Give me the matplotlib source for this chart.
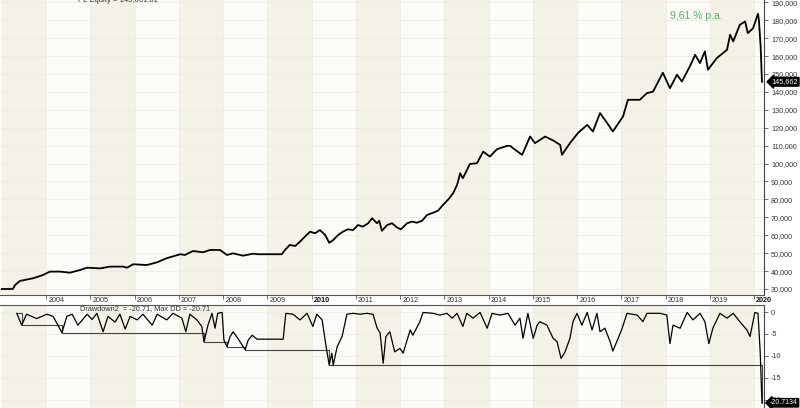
import matplotlib
matplotlib.use('Agg')
import matplotlib.pyplot as plt
import matplotlib.transforms as mtransforms
from matplotlib.ticker import FuncFormatter
import numpy as np

plt.rcParams['font.family'] = ['Liberation Sans', 'DejaVu Sans']

# ---- data ----
eq_dates = [2003.00, 2003.25, 2003.30, 2003.41, 2003.71, 2003.93, 2004.09, 2004.32, 2004.54, 2004.77,
            2004.93, 2005.22, 2005.45, 2005.74, 2005.83, 2005.97, 2006.28, 2006.51, 2006.73, 2007.03,
            2007.14, 2007.32, 2007.55, 2007.71, 2007.93, 2008.09, 2008.23, 2008.45, 2008.68, 2008.79,
            2009.33, 2009.40, 2009.51, 2009.63, 2009.74, 2009.85, 2009.97, 2010.08, 2010.19, 2010.31,
            2010.40, 2010.49, 2010.60, 2010.71, 2010.82, 2010.94, 2011.05, 2011.16, 2011.28, 2011.37,
            2011.48, 2011.53, 2011.59, 2011.71, 2011.82, 2011.93, 2012.02, 2012.16, 2012.27, 2012.38,
            2012.50, 2012.61, 2012.75, 2012.86, 2012.97, 2013.08, 2013.20, 2013.29, 2013.36, 2013.42,
            2013.58, 2013.74, 2013.88, 2014.03, 2014.19, 2014.42, 2014.49, 2014.60, 2014.76, 2014.94,
            2015.05, 2015.28, 2015.46, 2015.62, 2015.66, 2015.84, 2016.02, 2016.23, 2016.36, 2016.52,
            2016.68, 2016.81, 2017.04, 2017.15, 2017.42, 2017.58, 2017.72, 2017.94, 2018.10, 2018.26,
            2018.37, 2018.55, 2018.67, 2018.78, 2018.89, 2018.96, 2019.16, 2019.39, 2019.46, 2019.53,
            2019.68, 2019.80, 2019.86, 2019.98, 2020.09, 2020.11, 2020.15, 2020.18]
eq_values = [30000, 30000, 32200, 34500, 36000, 37800, 39700, 39700, 39100, 40600,
             41900, 41500, 42500, 42500, 41900, 43800, 43400, 44900, 47200, 49400,
             49000, 51200, 50500, 51800, 51800, 49000, 49900, 48600, 49700, 49400,
             49400, 51800, 54600, 54000, 56400, 59200, 62000, 61100, 62900, 60100,
             55800, 57300, 60100, 62000, 63300, 62900, 65700, 64800, 66700, 69500,
             66700, 68100, 62500, 65700, 66700, 64400, 63300, 66700, 67600, 67000,
             68100, 71300, 72600, 73700, 76900, 79700, 83400, 88100, 94600, 91800,
             99800, 100200, 106700, 103900, 108000, 109900, 109900, 107700, 104900, 115100,
             111400, 115100, 112900, 110400, 104900, 111400, 117000, 121600, 117900, 128200,
             122700, 117900, 126300, 135600, 135600, 139300, 140200, 150700, 142100, 149600,
             145800, 154200, 160700, 156100, 162600, 152400, 158900, 163500, 171900, 168200,
             177500, 179300, 172800, 175600, 183600, 180300, 165400, 145662]

dd_dates = [2003.34, 2003.45, 2003.56, 2003.79, 2004.02, 2004.16, 2004.36, 2004.47, 2004.59, 2004.72,
            2004.93, 2005.04, 2005.15, 2005.29, 2005.40, 2005.56, 2005.67, 2005.79, 2005.90, 2006.06,
            2006.19, 2006.40, 2006.51, 2006.73, 2006.87, 2007.07, 2007.16, 2007.25, 2007.41, 2007.52,
            2007.57, 2007.66, 2007.75, 2007.82, 2007.88, 2007.98, 2008.02, 2008.09, 2008.16, 2008.23,
            2008.34, 2008.50, 2008.57, 2008.66, 2008.77, 2009.36, 2009.38, 2009.42, 2009.58, 2009.74,
            2009.90, 2010.03, 2010.12, 2010.24, 2010.33, 2010.40, 2010.46, 2010.49, 2010.58, 2010.69,
            2010.80, 2010.94, 2011.10, 2011.25, 2011.39, 2011.48, 2011.55, 2011.62, 2011.68, 2011.77,
            2011.88, 2012.00, 2012.07, 2012.23, 2012.29, 2012.45, 2012.52, 2012.75, 2012.90, 2013.06,
            2013.18, 2013.29, 2013.42, 2013.51, 2013.65, 2013.81, 2013.97, 2014.08, 2014.26, 2014.44,
            2014.60, 2014.71, 2014.78, 2014.89, 2015.01, 2015.10, 2015.16, 2015.32, 2015.46, 2015.55,
            2015.64, 2015.73, 2015.84, 2015.91, 2016.00, 2016.11, 2016.23, 2016.34, 2016.45, 2016.52,
            2016.63, 2016.75, 2016.81, 2016.93, 2017.02, 2017.13, 2017.36, 2017.49, 2017.58, 2017.88,
            2018.03, 2018.10, 2018.17, 2018.33, 2018.49, 2018.62, 2018.78, 2018.89, 2018.98, 2019.07,
            2019.23, 2019.39, 2019.53, 2019.68, 2019.84, 2019.91, 2020.02, 2020.09, 2020.14, 2020.18]
dd_values = [-0.3, -3.0, -0.5, -1.5, -0.5, -1.0, -4.7, -1.0, -0.5, -3.0,
             -0.5, -1.7, -0.3, -4.5, -1.0, -2.3, -0.5, -3.9, -1.0, -1.8,
             -0.5, -3.0, -0.5, -1.8, -0.3, -1.4, -4.5, -0.5, -1.8, -3.3,
             -6.8, -3.0, -0.3, -3.7, -0.3, -0.1, -6.4, -7.9, -5.6, -4.5,
             -6.1, -8.6, -6.4, -5.3, -6.2, -6.2, -4.1, -0.3, -0.5, -1.8,
             -0.3, -3.3, -0.5, -1.8, -7.9, -12.1, -9.4, -12.1, -7.9, -5.6,
             -0.5, -0.3, -0.5, -0.3, -0.5, -3.6, -4.8, -11.7, -5.6, -4.5,
             -9.1, -8.3, -9.4, -4.1, -5.3, -2.2, -0.1, -0.3, -0.7, -0.3,
             -1.4, -0.3, -3.3, -0.3, -1.4, -0.1, -3.7, -0.3, -0.7, -0.3,
             -3.0, -1.4, -6.0, -0.3, -6.0, -3.0, -2.2, -3.0, -6.0, -6.8,
             -10.6, -9.1, -6.0, -2.2, -0.3, -3.0, -0.1, -4.1, -0.3, -4.5,
             -3.7, -6.8, -8.9, -6.0, -3.7, -0.3, -0.7, -2.2, -0.3, -0.3,
             -0.7, -7.2, -3.0, -3.7, -0.1, -1.8, -0.3, -2.2, -7.2, -3.7,
             -0.3, -1.4, -0.3, -2.2, -4.1, -5.6, -0.1, -0.3, -9.1, -20.7134]

years = list(range(2004, 2021))
bold_years = [2010, 2020]
eq_ticks = list(range(30000, 190001, 10000))
dd_ticks = [0, -5, -10, -15, -20]

# ---- styling ----
BEIGE = '#f4f2e6'
PALE = '#fbfbf8'
GRID = '#eeece1'
XMIN, XMAX = 2002.96, 2020.226

fig = plt.figure(figsize=(8, 4.08), dpi=100)
fig.patch.set_facecolor('white')
ax1 = fig.add_axes([0, 1 - 295 / 408, 764 / 800, 295 / 408])
ax2 = fig.add_axes([0, 0, 764 / 800, 103 / 408])

for ax in (ax1, ax2):
    ax.set_facecolor(PALE)
    for yr in range(2003, 2021):
        if yr % 2 == 1:
            ax.axvspan(yr, yr + 1, color=BEIGE, lw=0, zorder=0)
    ax.set_xlim(XMIN, XMAX)
    ax.set_xticks(years)
    ax.grid(True, color=GRID, lw=0.6, zorder=1)
    ax.set_axisbelow(True)
    ax.spines['left'].set_visible(False)
    ax.spines['right'].set_color('#444444')
    ax.spines['right'].set_linewidth(0.8)
    ax.yaxis.tick_right()
    ax.tick_params(axis='y', direction='out', length=3, width=0.6, color='#555555',
                   labelsize=5.2, labelcolor='#333333', pad=2)

# top pane: equity
ax1.spines['top'].set_visible(False)
ax1.spines['bottom'].set_color('#555555')
ax1.spines['bottom'].set_linewidth(0.8)
ax1.plot(eq_dates, eq_values, color='black', lw=1.3, zorder=3)
ax1.set_ylim(26650, 191300)
ax1.set_yticks(eq_ticks)
ax1.yaxis.set_major_formatter(FuncFormatter(lambda v, p: f'{int(v):,}'))
ax1.tick_params(axis='x', direction='out', length=3, width=0.6, color='#555555',
                labelbottom=False)
trx = mtransforms.blended_transform_factory(ax1.transData, ax1.transAxes)
for y in years:
    ax1.text(y + 0.05, -5.5 / 295, str(y), transform=trx, ha='left', va='center',
             fontsize=5.2, color='#111111' if y in bold_years else '#333333',
             fontweight='bold' if y in bold_years else 'normal', clip_on=False)

# bottom pane: drawdown
ax2.spines['top'].set_color('#555555')
ax2.spines['top'].set_linewidth(0.8)
ax2.spines['bottom'].set_visible(False)
ax2.tick_params(axis='x', length=0, labelbottom=False)
maxdd = np.minimum.accumulate(np.array(dd_values))
ax2.plot(dd_dates, maxdd, color='#444444', lw=0.8, drawstyle='steps-post', zorder=2)
ax2.plot(dd_dates, dd_values, color='black', lw=0.9, zorder=3)
ax2.set_ylim(-21.9, 1.6)
ax2.set_yticks(dd_ticks)
ax2.set_yticklabels([str(t) for t in dd_ticks])

# value tags
tr1 = mtransforms.blended_transform_factory(ax1.transAxes, ax1.transData)
ax1.text(1.01, eq_values[-1], f'{eq_values[-1]:,}', transform=tr1, fontsize=5.2, color='white',
         va='center', ha='left', clip_on=False, zorder=10,
         bbox=dict(boxstyle='larrow,pad=0.12', fc='black', ec='black'))
tr2 = mtransforms.blended_transform_factory(ax2.transAxes, ax2.transData)
ax2.text(1.008, dd_values[-1], f'{dd_values[-1]:.4f}', transform=tr2, fontsize=5.0, color='white',
         va='center', ha='left', clip_on=False, zorder=10,
         bbox=dict(boxstyle='larrow,pad=0.1', fc='black', ec='black'))

# texts
fig.text(78 / 800, 1 - 1 / 408, 'PL Equity = 145,661.81', fontsize=5.5, color='#333333',
         va='center', ha='left')
fig.text(670 / 800, 1 - 16 / 408, '9,61 % p.a.', fontsize=7.5, color='#55b065',
         va='center', ha='left')
fig.text(80 / 800, 1 - 309 / 408, 'Drawdown2  = -20.71, Max DD = -20.71', fontsize=5.3,
         color='#333333', va='center', ha='left')

fig.savefig('out.png', dpi=100, facecolor='white')
